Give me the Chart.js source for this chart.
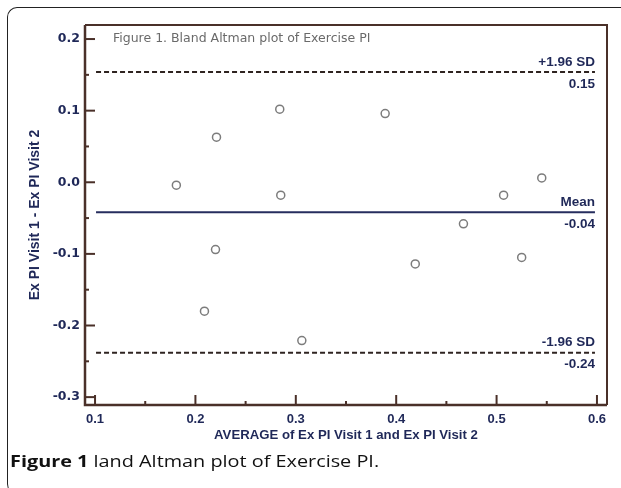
<!DOCTYPE html>
<html><head><meta charset="utf-8">
<script src="https://cdn.jsdelivr.net/npm/chart.js@4"></script>
<style>
html,body{margin:0;padding:0;width:621px;height:488px;overflow:hidden;background:#fff;}
#frame{position:absolute;left:7px;top:7px;width:700px;height:487px;border-top:1px solid #222;border-left:1px solid #222;border-top-left-radius:10px;border-bottom-left-radius:10px;box-sizing:border-box;}
#wrap{position:absolute;left:0;top:0;width:621px;height:488px;}
#caption{position:absolute;left:10px;top:450px;font-family:"Open Sans";font-size:16px;color:#111;white-space:nowrap;transform:scaleX(1.24);transform-origin:0 0;}
#caption b{font-weight:700;}
</style></head>
<body>
<div id="frame"></div>
<div id="wrap"><canvas id="c" width="621" height="488"></canvas></div>
<div id="caption"><b>Figure 1</b> land Altman plot of Exercise PI.</div>
<script>
// ---- data ----
const avgValues  = [0.181, 0.221, 0.284, 0.285, 0.220, 0.209, 0.306, 0.389, 0.545, 0.507, 0.467, 0.419, 0.525];
const diffValues = [-0.004, 0.063, 0.102, -0.018, -0.094, -0.180, -0.221, 0.096, 0.006, -0.018, -0.058, -0.114, -0.105];
const xTicks = [0.1, 0.2, 0.3, 0.4, 0.5, 0.6];
const yTicks = [-0.3, -0.2, -0.1, 0.0, 0.1, 0.2];
const limitNames  = ['+1.96 SD', 'Mean', '-1.96 SD'];
const limitValues = [0.154, -0.042, -0.238];
const limitLabels = ['0.15', '-0.04', '-0.24'];
const lineSpan = [0.101, 0.598];
const plotTitle = 'Figure 1. Bland Altman plot of Exercise PI';
const xTitle = 'AVERAGE of Ex PI Visit 1 and Ex PI Visit 2';
const yTitle = 'Ex PI Visit 1 - Ex PI Visit 2';

// ---- styles ----
const NAVY = '#1f2858';
const BROWN = '#4a3029';
const FONT = '"Liberation Sans", Arial, sans-serif';
const WIDE = '"DejaVu Sans", Verdana, sans-serif';

const points = avgValues.map((x, i) => ({x, y: diffValues[i]}));
const limitDatasets = limitValues.map((v, i) => ({
  type: 'line',
  label: limitNames[i],
  data: [{x: lineSpan[0], y: v}, {x: lineSpan[1], y: v}],
  borderColor: i === 1 ? '#262d5e' : '#2e2320',
  borderWidth: 2,
  borderDash: i === 1 ? [] : [5, 3],
  pointRadius: 0,
  fill: false
}));

const framePlugin = {
  id: 'frame',
  afterDatasetsDraw(chart) {
    const {ctx, chartArea: a, scales: {x, y}} = chart;
    ctx.save();
    ctx.strokeStyle = BROWN;
    ctx.lineWidth = 2;
    ctx.beginPath();
    ctx.moveTo(a.left, a.top); ctx.lineTo(a.right, a.top); ctx.lineTo(a.right, a.bottom);
    ctx.stroke();
    ctx.lineWidth = 2.5;
    ctx.beginPath();
    ctx.moveTo(a.left, a.top); ctx.lineTo(a.left, a.bottom); ctx.lineTo(a.right, a.bottom);
    ctx.stroke();
    ctx.lineWidth = 2;
    const half = (arr, i) => (arr[i] + arr[i + 1]) / 2;
    yTicks.forEach((v, i) => {
      const py = y.getPixelForValue(v);
      ctx.beginPath(); ctx.moveTo(a.left, py); ctx.lineTo(a.left + 10, py); ctx.stroke();
      if (i < yTicks.length - 1) {
        const pm = y.getPixelForValue(half(yTicks, i));
        ctx.beginPath(); ctx.moveTo(a.left, pm); ctx.lineTo(a.left + 4, pm); ctx.stroke();
      }
    });
    xTicks.forEach((v, i) => {
      const px = x.getPixelForValue(v);
      ctx.beginPath(); ctx.moveTo(px, a.bottom); ctx.lineTo(px, a.bottom - 10); ctx.stroke();
      if (i < xTicks.length - 1) {
        const pm = x.getPixelForValue(half(xTicks, i));
        ctx.beginPath(); ctx.moveTo(pm, a.bottom); ctx.lineTo(pm, a.bottom - 4); ctx.stroke();
      }
    });
    // inner title
    ctx.fillStyle = '#6a6a6a';
    ctx.font = '12.5px ' + WIDE;
    ctx.textAlign = 'left';
    ctx.textBaseline = 'middle';
    ctx.fillText(plotTitle, a.left + 28, y.getPixelForValue(0.2));
    // limit labels
    ctx.fillStyle = NAVY;
    ctx.font = 'bold 13.5px ' + FONT;
    ctx.textAlign = 'right';
    const rx = x.getPixelForValue(lineSpan[1]);
    limitValues.forEach((v, i) => {
      const py = y.getPixelForValue(v);
      ctx.fillText(limitNames[i], rx, py - 10);
      ctx.fillText(limitLabels[i], rx, py + 12);
    });
    ctx.restore();
  }
};

new Chart(document.getElementById('c'), {
  type: 'scatter',
  data: {
    datasets: [{
      label: 'Difference',
      data: points,
      pointStyle: 'circle',
      pointRadius: 4,
      borderWidth: 1.5,
      borderColor: '#7c7c7c',
      backgroundColor: 'rgba(255,255,255,0)'
    }, ...limitDatasets]
  },
  options: {
    responsive: false,
    animation: false,
    events: [],
    layout: {padding: {left: 27, right: 14, top: 25, bottom: 45}},
    plugins: {legend: {display: false}, tooltip: {enabled: false}, title: {display: false}},
    scales: {
      x: {
        type: 'linear', min: 0.09, max: 0.61,
        afterBuildTicks: s => { s.ticks = xTicks.map(v => ({value: v})); },
        afterFit: s => { s.height = 38; },
        grid: {display: false, drawTicks: false}, border: {display: false},
        ticks: {autoSkip: false, maxRotation: 0, padding: 7, color: NAVY,
                font: {family: FONT, size: 13, weight: 'bold'},
                callback: v => Number(v).toFixed(1)},
        title: {display: true, text: xTitle, color: NAVY, padding: 0,
                font: {family: FONT, size: 13.2, weight: 'bold'}}
      },
      y: {
        type: 'linear', min: -0.311, max: 0.2196,
        afterBuildTicks: s => { s.ticks = yTicks.map(v => ({value: v})); },
        afterFit: s => { s.width = 58; },
        grid: {display: false, drawTicks: false}, border: {display: false},
        ticks: {autoSkip: false, padding: 5, color: NAVY,
                font: {family: WIDE, size: 12.5, weight: 'bold'},
                callback: v => Number(v).toFixed(1)},
        title: {display: true, text: yTitle, color: NAVY, padding: 0,
                font: {family: FONT, size: 14, weight: 'bold'}}
      }
    }
  },
  plugins: [framePlugin]
});
</script>
</body></html>
